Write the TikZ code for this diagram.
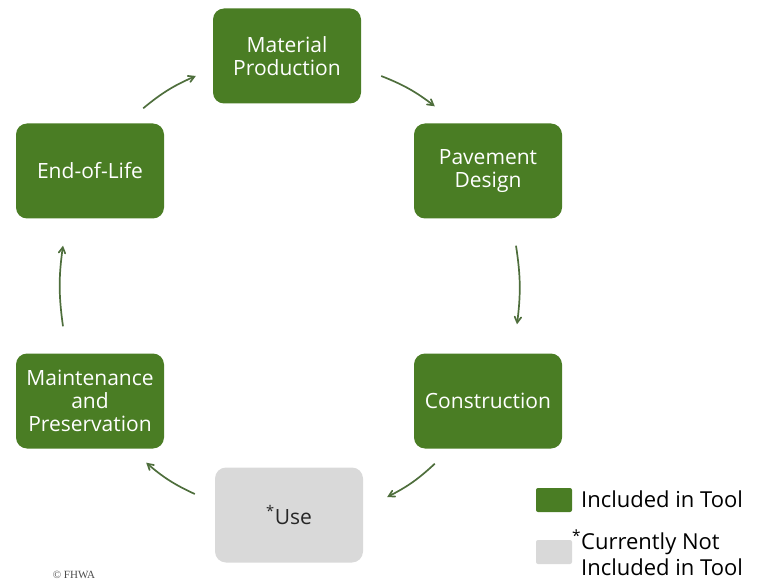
\documentclass[tikz,border=0pt]{standalone}
\usepackage{fontspec}
\setmainfont{Open Sans}
\newfontfamily\creditfont{Liberation Serif}
\usetikzlibrary{arrows,positioning}
\definecolor{toolgreen}{HTML}{4A7D24}
\definecolor{notgray}{HTML}{D9D9D9}
\definecolor{flowgreen}{HTML}{4E6E3C}
\tikzstyle{stage}=[rectangle,rounded corners=11pt,fill=toolgreen,text=white,minimum width=148pt,minimum height=95pt,inner sep=2pt,align=center,font=\fontsize{21}{23}\selectfont]
\tikzstyle{future}=[stage,fill=notgray,text=black!85]
\tikzstyle{flow}=[->,>=angle 60,line width=1.7pt,draw=flowgreen,bend left=8]
\tikzstyle{key}=[rectangle,rounded corners=2pt,minimum width=36pt,minimum height=24pt,inner sep=0pt]
\tikzstyle{keytext}=[anchor=west,inner sep=0pt,align=left,font=\fontsize{22}{26}\selectfont]

\begin{document}
\begin{tikzpicture}[x=1pt,y=-1pt]
    \useasboundingbox (0,0) rectangle (761,583);

    % life cycle stages
    \node[stage]  (mat) at (287,56)  {Material\\Production};
    \node[stage]  (pav) at (488,171) {Pavement\\Design};
    \node[stage]  (con) at (488,401) {Construction};
    \node[future] (use) at (289,515) {\textsuperscript{*}Use};
    \node[stage]  (mai) at (90,401)  {Maintenance\\and\\Preservation};
    \node[stage]  (eol) at (90,171)  {End-of-Life};

    % arrows between stages
    \draw[flow] ([xshift=-21pt,yshift=15pt]eol.north east) to ([xshift=-17pt,yshift=-20pt]mat.west);
    \draw[flow] ([xshift=20pt,yshift=-20pt]mat.east) to ([xshift=21pt,yshift=17pt]pav.north west);
    \draw[flow] ([xshift=28pt,yshift=-27pt]pav.south) to ([xshift=29pt,yshift=29pt]con.north);
    \draw[flow] ([xshift=21pt,yshift=-15pt]con.south west) to ([xshift=24pt,yshift=18pt]use.east);
    \draw[flow] ([xshift=-20pt,yshift=21pt]use.west) to ([xshift=-18pt,yshift=-14pt]mai.south east);
    \draw[flow] ([xshift=-27pt,yshift=27pt]mai.north) to ([xshift=-27pt,yshift=-27pt]eol.south);

    % legend
    \node[key,fill=toolgreen] (kin) at (554,500) {};
    \node[keytext] (kintext) at (581,499) {Included in Tool};
    \node[key,fill=notgray] (kout) at (554,552) {};
    \node[keytext] (kouttext) at (581,553) {\llap{\textsuperscript{*}}Currently Not\\Included in Tool};

    \node[font=\creditfont\fontsize{11}{11}\selectfont,text=black!70] (credit) at (74,575) {\textcopyright{} FHWA};
\end{tikzpicture}
\end{document}
